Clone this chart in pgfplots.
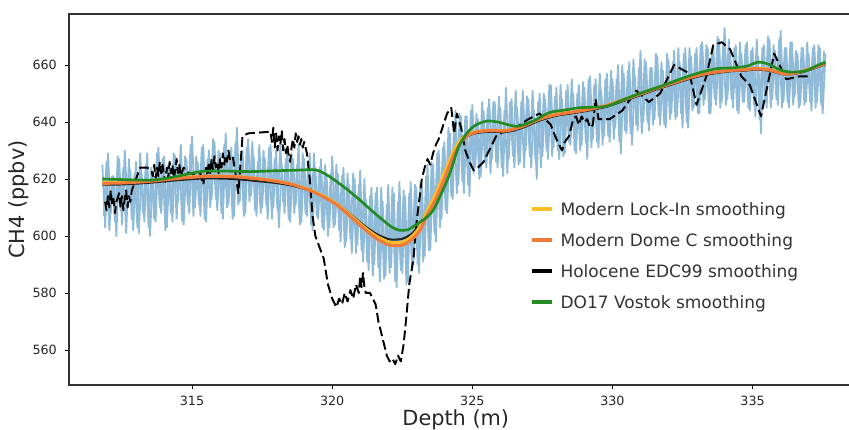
\documentclass[border=0pt]{standalone}
\usepackage{pgfplots}
\pgfplotsset{compat=1.18}
\usepackage{pgfplotstable}
\usepackage{fontspec}
\setmainfont{DejaVu Sans}
\definecolor{cblue}{RGB}{143,187,217}
\definecolor{cyel}{RGB}{255,190,40}
\definecolor{corange}{RGB}{240,122,58}
\definecolor{cgreen}{RGB}{34,139,34}
\definecolor{cblack}{RGB}{35,35,35}

\pgfplotstableread{
x y
311.8 625
311.9 603
312.0 629
312.1 608
312.2 621
312.3 600
312.4 627
312.5 604
312.6 630
312.7 610
312.8 623
312.9 602
313.0 626
313.1 601
313.2 622
313.3 605
313.4 629
313.5 600
313.6 621
313.7 605
313.8 631
313.9 608
314.0 628
314.1 603
314.2 624
314.3 605
314.4 628
314.5 612
314.6 632
314.7 604
314.8 627
314.9 608
315.0 635
315.1 610
315.2 626
315.3 607
315.4 632
315.5 605
315.6 630
315.7 613
315.8 633
315.9 609
316.0 629
316.1 606
316.2 636
316.3 611
316.4 631
316.5 607
316.6 638
316.7 612
316.8 630
316.9 608
317.0 634
317.1 614
317.2 628
317.3 607
317.4 632
317.5 610
317.6 627
317.7 606
317.8 632
317.9 610
318.0 630
318.1 603
318.2 625
318.3 608
318.4 630
318.5 605
318.6 627
318.7 611
318.8 632
318.9 605
319.0 627
319.1 607
319.2 629
319.3 602
319.4 624
319.5 606
319.6 627
319.7 602
319.8 621
319.9 603
320.0 628
320.1 604
320.2 622
320.3 598
320.4 624
320.5 598
320.6 618
320.7 594
320.8 620
320.9 597
321.0 623
321.1 591
321.2 613
321.3 588
321.4 617
321.5 590
321.6 617
321.7 584
321.8 612
321.9 586
322.0 618
322.1 589
322.2 615
322.3 582
322.4 619
322.5 587
322.6 614
322.7 584
322.8 619
322.9 590
323.0 617
323.1 587
323.2 618
323.3 593
323.4 625
323.5 595
323.6 625
323.7 598
323.8 630
323.9 606
324.0 633
324.1 608
324.2 636
324.3 613
324.4 644
324.5 618
324.6 642
324.7 615
324.8 642
324.9 614
325.0 646
325.1 624
325.2 641
325.3 621
325.4 644
325.5 624
325.6 648
325.7 627
325.8 647
325.9 624
326.0 645
326.1 621
326.2 652
326.3 627
326.4 648
326.5 624
326.6 645
326.7 626
326.8 651
326.9 630
327.0 648
327.1 624
327.2 644
327.3 620
327.4 650
327.5 628
327.6 648
327.7 627
327.8 653
327.9 631
328.0 652
328.1 627
328.2 648
328.3 629
328.4 653
328.5 632
328.6 650
328.7 629
328.8 653
328.9 632
329.0 652
329.1 627
329.2 656
329.3 634
329.4 655
329.5 631
329.6 651
329.7 635
329.8 657
329.9 633
330.0 655
330.1 638
330.2 660
330.3 629
330.4 657
330.5 636
330.6 661
330.7 632
330.8 656
330.9 637
331.0 665
331.1 640
331.2 661
331.3 637
331.4 659
331.5 641
331.6 663
331.7 639
331.8 658
331.9 638
332.0 662
332.1 643
332.2 665
332.3 642
332.4 661
332.5 638
332.6 666
332.7 638
332.8 663
332.9 645
333.0 666
333.1 643
333.2 668
333.3 648
333.4 666
333.5 643
333.6 666
333.7 646
333.8 669
333.9 647
334.0 673
334.1 648
334.2 665
334.3 645
334.4 667
334.5 643
334.6 664
334.7 647
334.8 668
334.9 644
335.0 666
335.1 642
335.2 663
335.3 636
335.4 667
335.5 645
335.6 669
335.7 648
335.8 665
335.9 646
336.0 672
336.1 647
336.2 666
336.3 645
336.4 668
336.5 649
336.6 664
336.7 646
336.8 666
336.9 647
337.0 664
337.1 644
337.2 667
337.3 647
337.4 666
337.5 643
337.6 664
}\bluedata

\pgfplotstableread{
x y
311.85 607
311.95 626
312.05 602
312.15 621
312.25 605
312.35 628
312.45 609
312.55 624
312.65 601
312.75 627
312.85 606
312.95 622
313.05 603
313.15 629
313.25 608
313.35 625
313.45 603
313.55 624
313.65 606
313.75 629
313.85 610
313.95 627
314.05 602
314.15 625
314.25 608
314.35 629
314.45 606
314.55 625
314.65 605
314.75 628
314.85 611
314.95 632
315.05 607
315.15 628
315.25 611
315.35 631
315.45 606
315.55 627
315.65 610
315.75 634
315.85 613
315.95 630
316.05 608
316.15 632
316.25 610
316.35 629
316.45 606
316.55 633
316.65 611
316.75 628
316.85 607
316.95 631
317.05 612
317.15 633
317.25 609
317.35 626
317.45 608
317.55 630
317.65 611
317.75 631
317.85 606
317.95 627
318.05 609
318.15 632
318.25 612
318.35 627
318.45 606
318.55 629
318.65 608
318.75 625
318.85 604
318.95 629
319.05 608
319.15 626
319.25 604
319.35 629
319.45 607
319.55 624
319.65 603
319.75 625
319.85 600
319.95 622
320.05 603
320.15 625
320.25 602
320.35 621
320.45 596
320.55 622
320.65 599
320.75 622
320.85 594
320.95 618
321.05 595
321.15 620
321.25 591
321.35 614
321.45 586
321.55 615
321.65 589
321.75 617
321.85 585
321.95 611
322.05 587
322.15 617
322.25 584
322.35 612
322.45 588
322.55 616
322.65 583
322.75 615
322.85 588
322.95 618
323.05 590
323.15 619
323.25 591
323.35 621
323.45 595
323.55 626
323.65 601
323.75 629
323.85 603
323.95 631
324.05 609
324.15 638
324.25 614
324.35 639
324.45 615
324.55 643
324.65 619
324.75 642
324.85 618
324.95 644
325.05 622
325.15 643
325.25 620
325.35 647
325.45 626
325.55 645
325.65 622
325.75 647
325.85 626
325.95 649
326.05 624
326.15 644
326.25 622
326.35 647
326.45 628
326.55 651
326.65 625
326.75 647
326.85 624
326.95 649
327.05 628
327.15 651
327.25 627
327.35 647
327.45 624
327.55 650
327.65 630
327.75 653
327.85 628
327.95 649
328.05 630
328.15 653
328.25 628
328.35 651
328.45 633
328.55 655
328.65 630
328.75 650
328.85 630
328.95 654
329.05 633
329.15 655
329.25 631
329.35 653
329.45 633
329.55 657
329.65 632
329.75 655
329.85 635
329.95 658
330.05 634
330.15 655
330.25 633
330.35 660
330.45 637
330.55 658
330.65 636
330.75 662
330.85 639
330.95 659
331.05 636
331.15 662
331.25 640
331.35 659
331.45 639
331.55 664
331.65 642
331.75 661
331.85 639
331.95 664
332.05 641
332.15 661
332.25 641
332.35 666
332.45 643
332.55 664
332.65 640
332.75 666
332.85 644
332.95 664
333.05 643
333.15 667
333.25 646
333.35 667
333.45 643
333.55 666
333.65 648
333.75 670
333.85 645
333.95 667
334.05 646
334.15 669
334.25 648
334.35 666
334.45 644
334.55 668
334.65 647
334.75 667
334.85 645
334.95 665
335.05 646
335.15 669
335.25 641
335.35 666
335.45 647
335.55 670
335.65 645
335.75 667
335.85 648
335.95 669
336.05 645
336.15 666
336.25 647
336.35 668
336.45 646
336.55 665
336.65 645
336.75 666
336.85 646
336.95 668
337.05 647
337.15 666
337.25 645
337.35 667
337.45 646
337.55 665
}\bluedatab

\pgfplotstableread{
x y
311.90 612
311.95 609
312.00 614
312.05 610
312.10 616
312.15 611
312.20 613
312.25 608
312.30 612
312.40 615
312.45 610
312.50 614
312.55 609
312.60 613
312.65 616
312.70 610
312.75 614
312.80 612
312.85 616
313.00 620
313.15 624
313.40 624
313.55 623
313.60 621
313.65 625
313.70 620
313.75 624
313.80 621
313.85 626
313.90 622
313.95 625
314.00 621
314.05 619
314.10 624
314.15 620
314.20 626
314.25 622
314.30 625
314.35 620
314.40 623
314.45 627
314.50 622
314.55 625
314.60 621
314.70 624
314.80 623
314.90 622
315.00 622
315.10 621
315.20 621
315.30 622
315.40 618
315.50 624
315.55 621
315.60 626
315.65 622
315.70 627
315.75 623
315.80 628
315.85 624
315.90 626
315.95 622
316.00 627
316.05 624
316.10 629
316.15 625
316.20 628
316.25 626
316.30 630
316.35 627
316.45 628
316.55 622
316.65 615
316.75 628
316.80 635
317.00 636
317.80 636.6
317.85 633
317.90 638
317.95 631
318.00 636
318.05 630
318.10 635
318.15 632
318.20 637
318.25 630
318.30 634
318.35 629
318.40 632
318.45 628
318.50 626
318.55 631
318.60 634
318.65 631
318.70 636
318.75 633
318.80 635
318.85 632
318.90 634
318.95 631
319.00 633
319.10 629
319.20 620
319.30 607
319.40 600
319.55 596
319.70 592
319.85 583
320.00 578
320.15 575
320.25 578
320.35 576
320.45 580
320.55 577
320.65 581
320.75 578
320.85 583
320.95 580
321.00 586
321.05 582
321.10 587
321.15 582
321.20 580
321.35 580
321.45 578
321.55 576
321.65 570
321.75 566
321.85 562
321.95 558
322.05 556
322.15 557
322.25 555
322.35 558
322.45 556
322.55 562
322.65 572
322.75 583
322.90 592
323.00 604
323.10 612
323.20 620
323.30 624
323.40 627
323.50 625
323.60 629
323.70 632
323.80 634
323.90 637
324.00 640
324.10 643
324.25 645
324.35 636
324.45 643
324.60 638
324.75 630
324.90 626
325.05 623
325.20 624
325.40 626
325.60 630
325.85 635
326.20 637
326.50 637
326.70 639
327.00 641
327.40 643
327.60 641
327.80 639
328.00 634
328.20 630
328.30 633
328.45 635
328.60 641
328.70 642
328.80 639
328.90 642
329.00 640
329.10 641
329.20 638
329.30 639
329.40 648
329.50 641
329.90 641
330.35 644
330.85 651
331.30 647
331.70 650
332.20 660
332.75 657
333.00 646
333.35 656
333.60 667
333.90 668
334.20 665.5
334.60 656
334.90 653
335.30 642
335.77 664
336.20 655
336.66 656
337.10 656
}\edcdata

\begin{document}
\begin{tikzpicture}
\useasboundingbox (-49.68pt,-31.68pt) rectangle (561.6pt,277.2pt);
\begin{axis}[
  name=ax, at={(0pt,0pt)}, anchor=south west,
  scale only axis, width=561.6pt, height=267.12pt,
  xmin=310.61, xmax=338.44, ymin=547.7, ymax=677.9,
  axis line style={draw=none},
  tick pos=left, tick align=outside, major tick length=3pt,
  tick style={black, line width=0.6pt},
  xtick={315,320,325,330,335}, ytick={560,580,600,620,640,660},
  /pgf/number format/assume math mode=true,
  /pgf/number format/1000 sep={},
  ticklabel style={font=\fontsize{9.15}{11}\selectfont, text=black!85},
  xticklabel style={anchor=base, inner sep=0pt, yshift=-11.6pt},
  yticklabel style={anchor=east, inner sep=0pt, xshift=-5.6pt},
  xlabel={Depth (m)}, ylabel={CH4 (ppbv)},
  label style={font=\fontsize{15}{18}\selectfont, text=black!85},
  xlabel style={at={(axis description cs:0.4959,0)}, anchor=base, yshift=-29pt},
  ylabel style={at={(axis description cs:-0.0647,0.5)}, anchor=center, rotate=0},
  legend style={at={(axis description cs:0.591,0.4942)}, anchor=north west,
    draw=none, fill=none, font=\fontsize{12.25}{14}\selectfont, text=black!80,
    row sep=12.4pt, column sep=4.6pt, inner sep=0pt,
    nodes={inner sep=0pt, text height=9.5pt, text depth=0.5pt}},
  legend cell align=left,
  legend image code/.code={\draw[#1] (0pt,0pt) -- (14.4pt,0pt);},
]
\addplot[cblue, line width=1.3pt, line join=round, forget plot] table[x=x,y=y] {\bluedata};
\addplot[cblue, line width=1.3pt, line join=round, forget plot] table[x=x,y=y] {\bluedatab};
\addplot[black, line width=1.4pt, dash pattern=on 7pt off 3pt, line join=round, forget plot] table[x=x,y=y] {\edcdata};

% black smooth (EDC99)
\addplot[cblack, line width=1.5pt, smooth, tension=0.5, forget plot] coordinates {
(311.8,618.0) (312.5,618.1) (313.5,618.7) (314.5,619.6) (315.5,620.2) (316.5,620.0)
(317.4,619.2) (318.0,618.6) (318.6,617.6) (319.3,615.6) (320.0,612.4) (320.4,609.6)
(320.8,606.4) (321.2,603.2) (321.6,600.6) (322.05,598.8) (322.5,599.0) (322.8,600.5)
(323.1,603.5) (323.4,609.0) (323.7,614.5) (324.0,621.0) (324.3,628.0) (324.6,633.0)
(324.9,635.4) (325.26,636.3) (325.7,636.6) (326.2,636.5) (326.8,638.0) (327.4,640.5)
(328.0,642.2) (328.6,643.1) (329.2,644.1) (329.8,645.4) (330.4,647.4) (330.96,649.3)
(331.5,651.2) (332.1,653.1) (332.7,655.0) (333.35,656.6) (334.2,657.8) (334.7,658.0)
(335.1,658.4) (335.6,658.0) (336.05,656.8) (336.4,656.8) (336.7,657.3) (337.1,658.5)
(337.6,660.3)};
% yellow (Lock-In)
\addplot[cyel, line width=2.2pt, smooth, tension=0.5, forget plot] coordinates {
(311.8,618.7) (312.5,618.8) (313.5,619.4) (314.5,620.4) (315.5,621.0) (316.5,620.9)
(317.4,620.1) (318.0,619.3) (318.6,618.1) (319.3,615.8) (320.0,612.3) (320.4,609.4)
(320.8,606.0) (321.2,602.6) (321.6,599.8) (322.05,597.8) (322.5,597.8) (322.8,599.5)
(323.1,602.8) (323.4,609.0) (323.7,615.0) (324.0,622.0) (324.3,629.0) (324.6,634.0)
(324.9,636.0) (325.26,636.8) (325.7,637.1) (326.2,637.0) (326.8,638.6) (327.4,641.1)
(328.0,642.7) (328.6,643.6) (329.2,644.6) (329.8,645.9) (330.4,647.9) (330.96,649.8)
(331.5,651.7) (332.1,653.6) (332.7,655.5) (333.35,657.1) (334.2,658.2) (334.7,658.4)
(335.1,658.8) (335.6,658.4) (336.05,657.1) (336.4,657.1) (336.7,657.7) (337.1,658.9)
(337.6,660.7)};
% orange (Dome C)
\addplot[corange, line width=2.2pt, smooth, tension=0.5, forget plot] coordinates {
(311.8,618.5) (312.5,618.6) (313.5,619.2) (314.5,620.2) (315.5,620.9) (316.5,620.8)
(317.4,620.0) (318.0,619.2) (318.6,618.0) (319.3,615.6) (320.0,612.0) (320.4,609.0)
(320.8,605.5) (321.2,602.0) (321.6,599.0) (322.05,596.8) (322.5,596.8) (322.8,598.5)
(323.1,601.5) (323.4,607.5) (323.7,613.0) (324.0,620.0) (324.3,627.5) (324.6,633.0)
(324.9,635.6) (325.26,636.7) (325.7,637.0) (326.2,636.9) (326.8,638.5) (327.4,641.0)
(328.0,642.6) (328.6,643.5) (329.2,644.5) (329.8,645.8) (330.4,647.8) (330.96,649.7)
(331.5,651.6) (332.1,653.5) (332.7,655.4) (333.35,657.0) (334.2,658.1) (334.7,658.3)
(335.1,658.7) (335.6,658.3) (336.05,657.0) (336.4,657.0) (336.7,657.6) (337.1,658.8)
(337.6,660.6)};
% green (Vostok)
\addplot[cgreen, line width=1.9pt, smooth, tension=0.5, forget plot] coordinates {
(311.8,620.0) (312.5,619.8) (313.3,619.6) (313.8,619.8) (314.5,621.0) (315.3,622.6)
(316.0,622.8) (317.1,622.6) (318.0,622.9) (318.8,623.1) (319.4,623.2) (319.8,621.5)
(320.2,618.8) (320.6,615.8) (321.0,612.5) (321.4,609.0) (321.7,606.5) (322.1,603.3)
(322.4,602.0) (322.7,602.2) (323.0,604.0) (323.3,606.0) (323.6,609.0) (323.9,615.0)
(324.2,622.0) (324.5,631.0) (324.8,636.0) (325.1,638.8) (325.5,640.3) (325.9,640.0)
(326.6,638.5) (327.2,640.5) (327.75,643.3) (328.3,644.2) (328.8,645.0) (329.3,645.2)
(329.8,645.5) (330.3,647.5) (330.7,649.0) (331.2,650.8) (331.8,652.8) (332.4,655.0)
(333.0,657.0) (333.7,658.7) (334.3,659.0) (334.8,659.6) (335.2,661.0) (335.6,660.2)
(336.0,658.2) (336.4,657.5) (336.9,658.0) (337.3,659.8) (337.6,661.0)};

\addlegendimage{cyel, line width=2.8pt}
\addlegendimage{corange, line width=2.8pt}
\addlegendimage{black, line width=2.8pt}
\addlegendimage{cgreen, line width=2.8pt}
\legend{Modern Lock-In smoothing, Modern Dome C smoothing, Holocene EDC99 smoothing, DO17 Vostok smoothing}
\end{axis}
\draw[line width=0.8pt, black!80] (ax.south east) -- (ax.south west) -- (ax.north west) -- (ax.north east);
\end{tikzpicture}
\end{document}
